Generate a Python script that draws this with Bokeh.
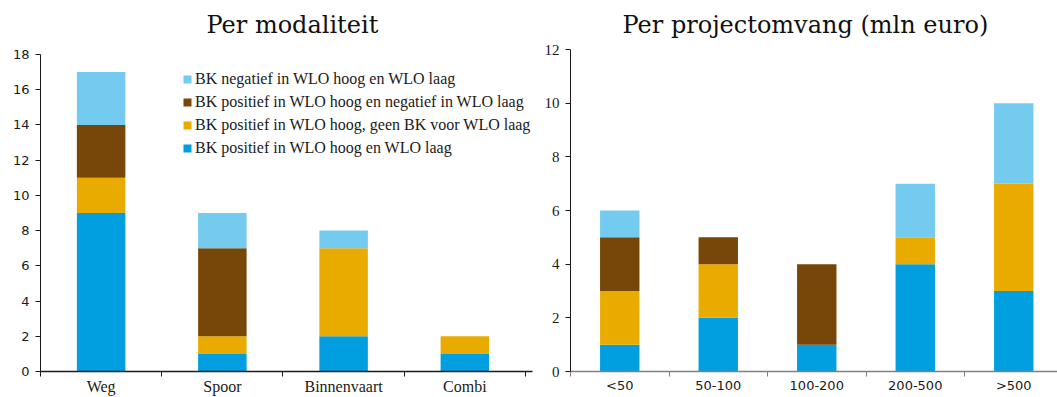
from bokeh.plotting import figure
from bokeh.layouts import row
from bokeh.models import FixedTicker, Legend, LegendItem, Range1d, ColumnDataSource
from bokeh.embed import file_html
from bokeh.resources import INLINE

# Series (stack order bottom -> top)
series = ["pos_beide", "pos_hoog_geen_laag", "pos_hoog_neg_laag", "neg_beide"]
series_labels = [
    "BK positief in WLO hoog en WLO laag",
    "BK positief in WLO hoog, geen BK voor WLO laag",
    "BK positief in WLO hoog en negatief in WLO laag",
    "BK negatief in WLO hoog en WLO laag",
]
colors = ["#019FDF", "#EAAB00", "#774709", "#74CBEF"]

# Per modaliteit
modaliteit = ["Weg", "Spoor", "Binnenvaart", "Combi"]
mod_pos_beide = [9, 1, 2, 1]
mod_pos_hoog_geen_laag = [2, 1, 5, 1]
mod_pos_hoog_neg_laag = [3, 5, 0, 0]
mod_neg_beide = [3, 2, 1, 0]

# Per projectomvang (mln euro)
omvang = ["<50", "50-100", "100-200", "200-500", ">500"]
omv_pos_beide = [1, 2, 1, 4, 3]
omv_pos_hoog_geen_laag = [2, 2, 0, 1, 4]
omv_pos_hoog_neg_laag = [2, 1, 3, 0, 0]
omv_neg_beide = [1, 0, 0, 2, 3]

SERIF = "Liberation Serif"
TITLE_FONT = "DejaVu Serif"
SANS = "DejaVu Sans"


def make_panel(cats, values, title, width, ytop, ymax, xend,
               border_left, border_right,
               xlabel_font, xlabel_size, ylabel_font, ylabel_size,
               title_offset, xaxis_color):
    p = figure(width=width, height=397, output_backend="svg",
               toolbar_location=None, x_range=Range1d(0, xend),
               y_range=Range1d(0, ytop), min_border_top=49,
               min_border_bottom=25, min_border_left=border_left,
               min_border_right=border_right)
    p.outline_line_color = None
    p.grid.visible = False

    xs = [i + 0.5 for i in range(len(cats))]
    data = {"x": xs}
    for key, vals in zip(series, values):
        data[key] = vals
    src = ColumnDataSource(data)
    renderers = p.vbar_stack(series, x="x", width=0.4, color=colors,
                             line_color=None, source=src)

    # Category labels at bar centres, small tick marks at category boundaries
    p.xaxis.ticker = FixedTicker(ticks=xs,
                                 minor_ticks=list(range(len(cats) + 1)))
    p.xaxis.major_label_overrides = {x: c for x, c in zip(xs, cats)}
    p.xaxis.major_tick_line_color = None
    p.xaxis.major_tick_out = 0
    p.xaxis.major_tick_in = 0
    p.xaxis.minor_tick_line_color = xaxis_color
    p.xaxis.minor_tick_out = 5
    p.xaxis.minor_tick_in = 0
    p.xaxis.axis_line_color = xaxis_color
    p.xaxis.axis_line_width = 1.5
    p.xaxis.major_label_text_font = xlabel_font
    p.xaxis.major_label_text_font_size = xlabel_size
    p.xaxis.major_label_text_color = "#1a1a1a"
    p.xaxis.major_label_standoff = 1

    p.yaxis.ticker = FixedTicker(ticks=list(range(0, ymax + 1, 2)))
    p.yaxis.bounds = (0, ymax)
    p.yaxis.minor_tick_line_color = None
    p.yaxis.major_tick_out = 5
    p.yaxis.major_tick_in = 0
    p.yaxis.axis_line_color = "#1a1a1a"
    p.yaxis.major_tick_line_color = "#1a1a1a"
    p.yaxis.major_label_text_font = ylabel_font
    p.yaxis.major_label_text_font_size = ylabel_size
    p.yaxis.major_label_text_color = "#1a1a1a"
    p.yaxis.major_label_standoff = 6

    p.title.text = title
    p.title.align = "left"
    p.title.text_font = TITLE_FONT
    p.title.text_font_size = "24px"
    p.title.text_font_style = "normal"
    p.title.text_color = "#111111"
    p.title.offset = title_offset
    p.title.standoff = 0
    p.title.padding = dict(left=0, right=0, top=0, bottom=11)
    return p, renderers


# Left value axis runs to 18; the frame is a little taller than that
left, left_r = make_panel(
    modaliteit,
    [mod_pos_beide, mod_pos_hoog_geen_laag, mod_pos_hoog_neg_laag, mod_neg_beide],
    "Per modaliteit", 540, 18.28, 18, 4.058, 40, 8,
    SERIF, "16px", SANS, "13px", 166, "#1a1a1a")

right, right_r = make_panel(
    omvang,
    [omv_pos_beide, omv_pos_hoog_geen_laag, omv_pos_hoog_neg_laag, omv_neg_beide],
    "Per projectomvang (mln euro)", 517, 12, 12, 4.944, 30, 0,
    SANS, "13px", SERIF, "15px", 52, "#808080")

# Legend inside the left panel, top series first
items = [LegendItem(label=lab, renderers=[r])
         for lab, r in zip(series_labels[::-1], left_r[::-1])]
legend = Legend(items=items, location=(142, 214), background_fill_alpha=0,
                border_line_color=None, label_text_font=SERIF,
                label_text_font_size="16px", label_text_color="#1a1a1a",
                glyph_width=10, glyph_height=10, label_standoff=3,
                spacing=4, padding=0, label_height=19)
left.add_layout(legend)

layout = row(left, right)
open("out.html", "w").write(file_html(layout, INLINE))
